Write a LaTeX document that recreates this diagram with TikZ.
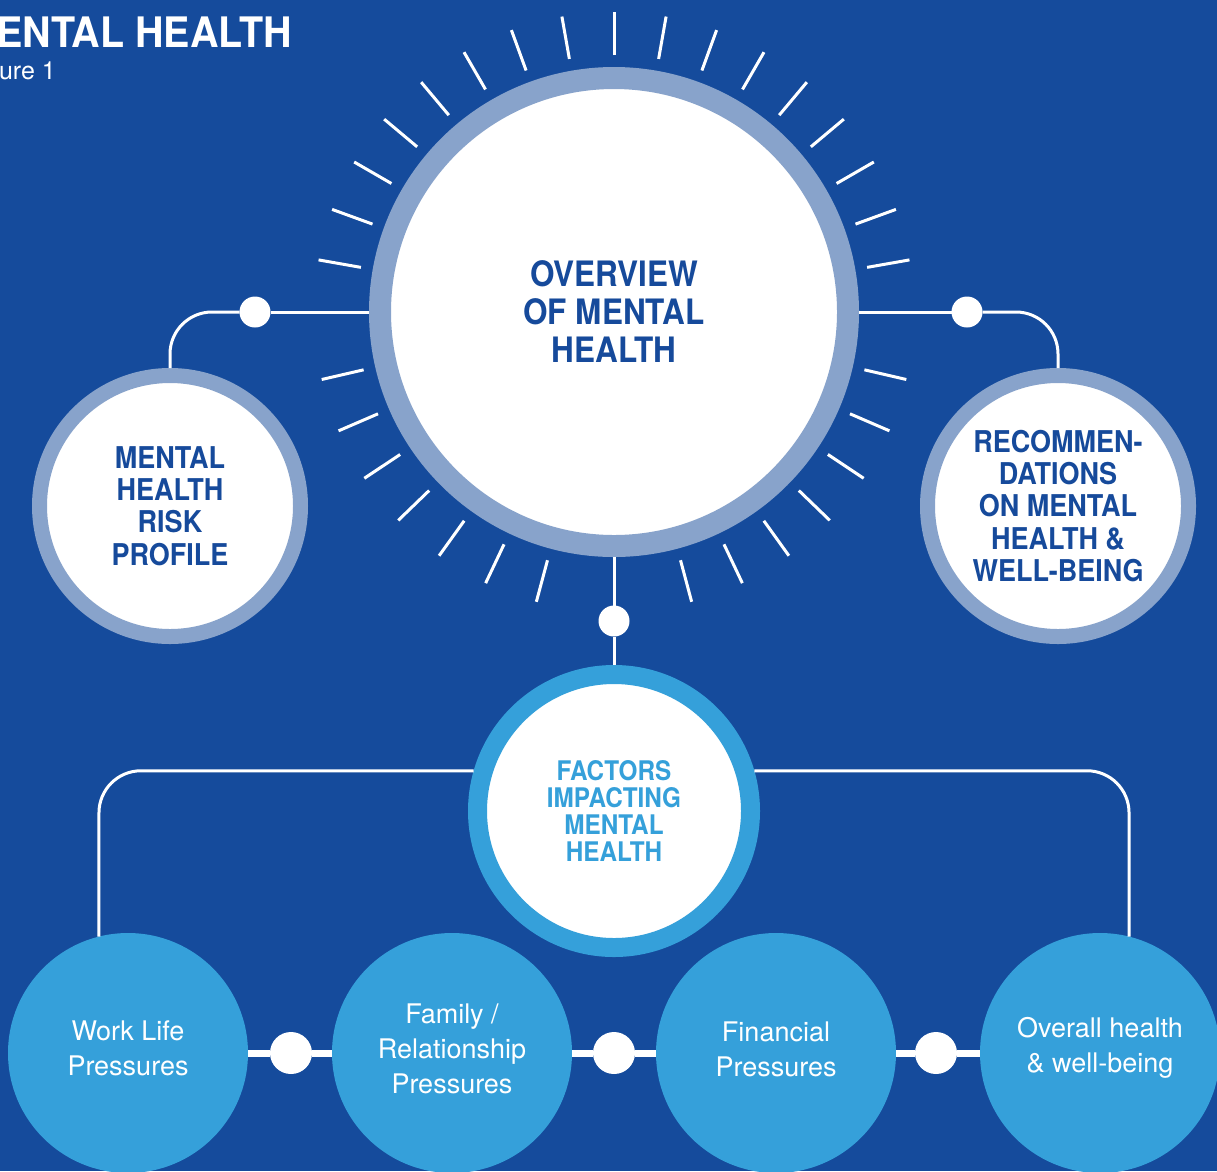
\documentclass[tikz,border=0pt]{standalone}
\usepackage{fontspec}
\setmainfont{TeX Gyre Heros}
\newfontfamily\cond[FakeStretch=0.9]{TeX Gyre Heros}
\newfontfamily\titlefont[FakeStretch=0.94]{TeX Gyre Heros}
\definecolor{bgblue}{HTML}{154B9C}
\definecolor{ringlight}{HTML}{88A3CB}
\definecolor{cyanb}{HTML}{35A0DA}
\definecolor{darktext}{HTML}{164A9B}
\begin{document}
\begin{tikzpicture}[x=1pt,y=1pt,
  conn/.style={draw=white, line width=3pt},
  bar/.style={draw=white, line width=7pt},
  ray/.style={draw=white, line width=3pt},
  bigring/.style={circle, fill=white, draw=ringlight, line width=22pt, minimum size=468pt, inner sep=0pt, outer sep=11pt,
    text=darktext, font=\cond\bfseries\fontsize{35}{38}\selectfont, align=center},
  sidering/.style={circle, fill=white, draw=ringlight, line width=15pt, minimum size=261pt, inner sep=0pt, outer sep=7.5pt,
    text=darktext, font=\cond\bfseries\fontsize{30}{32.2}\selectfont, align=center},
  factring/.style={circle, fill=white, draw=cyanb, line width=19pt, minimum size=273pt, inner sep=0pt, outer sep=9.5pt,
    text=cyanb, font=\cond\bfseries\fontsize{27}{27}\selectfont, align=center},
  leaf/.style={circle, fill=cyanb, minimum size=240pt, inner sep=0pt, outer sep=0pt},
  leaftext/.style={text=white, font=\fontsize{27}{35}\selectfont, align=center, inner sep=0pt},
  smalldot/.style={circle, fill=white, minimum size=31pt, inner sep=0pt, outer sep=0pt},
  bigdot/.style={circle, fill=white, minimum size=42pt, inner sep=0pt, outer sep=0pt}
]
\useasboundingbox (0,0) rectangle (1217,-1171);
\fill[bgblue] (0,0) rectangle (1217,-1171);

% title (cut off at the left edge, as in the reference)
\node[anchor=base east, text=white, font=\titlefont\bfseries\fontsize{42}{44}\selectfont, inner sep=0pt] (title) at (292,-47) {MENTAL HEALTH};
\node[anchor=base east, text=white, font=\fontsize{25}{28}\selectfont, inner sep=0pt] (fig) at (56,-79) {Figure 1};

% main nodes
\node[bigring] (main) at (614,-312) {OVERVIEW\\OF MENTAL\\HEALTH};
\node[sidering] (risk) at (170,-506) {MENTAL\\HEALTH\\RISK\\PROFILE};
\node[sidering] (recom) at (1058,-506) {RECOMMEN-\\DATIONS\\ON MENTAL\\HEALTH \&\\WELL-BEING};
\node[factring] (factors) at (614,-811) {FACTORS\\IMPACTING\\MENTAL\\HEALTH};

\node[leaf] (work) at (128,-1053) {};
\node[leaf] (family) at (452,-1053) {};
\node[leaf] (fin) at (776,-1053) {};
\node[leaf] (overall) at (1100,-1053) {};
\node[leaftext] (workt) at ([yshift=5pt]work.center) {Work Life\\Pressures};
\node[leaftext] (familyt) at ([yshift=4pt]family.center) {Family /\\Relationship\\Pressures};
\node[leaftext] (fint) at ([yshift=4pt]fin.center) {Financial\\Pressures};
\node[leaftext] (overallt) at ([yshift=5pt]overall.center) {Overall health\\\& well-being};

% rays
\foreach \a in {10,20,...,170}
  \draw[ray] (main.center) ++(\a:257) -- ++(\a:43);
\foreach \k in {0,...,6} {
  \pgfmathsetmacro\dd{15+10.333*\k}
  \draw[ray] (main.center) ++(-90+\dd:257) -- ++(-90+\dd:43);
  \draw[ray] (main.center) ++(-90-\dd:257) -- ++(-90-\dd:43);
}

% dots
\node[smalldot] (dl) at (255,-312) {};
\node[smalldot] (dr) at (967,-312) {};
\node[smalldot] (db) at (614,-621) {};
\node[bigdot] (d1) at (291,-1053) {};
\node[bigdot] (d2) at (614,-1053) {};
\node[bigdot] (d3) at (936,-1053) {};

% connectors
\draw[conn] (main.west) -- (dl);
\draw[conn, rounded corners=42pt] (dl) -| (risk.north);
\draw[conn] (main.east) -- (dr);
\draw[conn, rounded corners=42pt] (dr) -| (recom.north);
\draw[conn] (main.south) -- (db);
\draw[conn] (db) -- (factors.north);
\draw[conn, rounded corners=42pt] (factors.164) -| (work.104);
\draw[conn, rounded corners=42pt] (factors.16) -| (overall.76);

\draw[bar] (work) -- (d1);
\draw[bar] (d1) -- (family);
\draw[bar] (family) -- (d2);
\draw[bar] (d2) -- (fin);
\draw[bar] (fin) -- (d3);
\draw[bar] (d3) -- (overall);
\end{tikzpicture}
\end{document}
